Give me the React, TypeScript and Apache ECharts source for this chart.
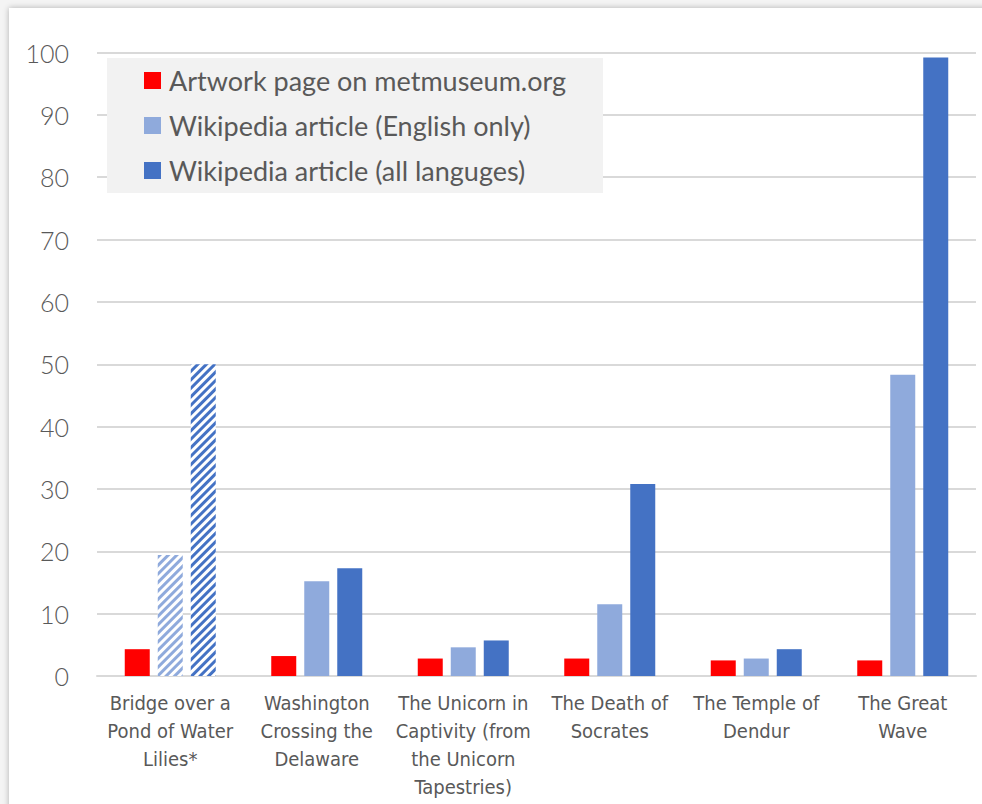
import React, { useEffect, useRef } from "react";
import * as echarts from "echarts";

const categories = [
  "Bridge over a\nPond of Water\nLilies*",
  "Washington\nCrossing the\nDelaware",
  "The Unicorn in\nCaptivity (from\nthe Unicorn\nTapestries)",
  "The Death of\nSocrates",
  "The Temple of\nDendur",
  "The Great\nWave",
];

const seriesNames = [
  "Artwork page on metmuseum.org",
  "Wikipedia article (English only)",
  "Wikipedia article (all languges)",
];

const metValues = [4.3, 3.2, 2.8, 2.8, 2.5, 2.5];
const wikiEnValues = [19.4, 15.2, 4.6, 11.5, 2.8, 48.3];
const wikiAllValues = [50, 17.3, 5.7, 30.8, 4.3, 99.2];

// categories whose Wikipedia bars are drawn hatched (estimates)
const hatchedIndex = [0];

const colors = ["#ff0000", "#8faadc", "#4472c4"];

export default function App() {
  const ref = useRef<HTMLDivElement>(null);

  useEffect(() => {
    document.body.style.margin = "0";
    if (!ref.current) return;
    const chart = echarts.init(ref.current, null, { renderer: "svg" });

    const hatch = (vals: number[], color: string) =>
      vals.map((v, i) =>
        hatchedIndex.includes(i)
          ? {
              value: v,
              itemStyle: {
                color: "#ffffff",
                decal: {
                  symbol: "rect",
                  color: color,
                  dashArrayX: [1, 0],
                  dashArrayY: [2.4, 2.2],
                  rotation: -Math.PI / 4,
                },
              },
            }
          : v
      );

    const font = "Lato, 'Open Sans', sans-serif";

    chart.setOption({
      animation: false,
      color: colors,
      grid: { left: 97, right: 6, top: 52.5, bottom: 128, containLabel: false },
      graphic: [
        {
          type: "rect",
          z: 1,
          shape: { x: 107, y: 58, width: 496, height: 135 },
          style: { fill: "#f2f2f2" },
        },
      ],
      legend: {
        z: 5,
        orient: "vertical",
        left: 144,
        top: 67,
        padding: 0,
        itemWidth: 17,
        itemHeight: 17,
        itemGap: 18,
        icon: "rect",
        textStyle: {
          fontFamily: font,
          fontSize: 27,
          color: "#595959",
          padding: [0, 0, 0, 3],
        },
        data: seriesNames,
      },
      xAxis: {
        type: "category",
        data: categories,
        axisTick: { show: false },
        axisLine: { lineStyle: { color: "#d9d9d9", width: 2 } },
        axisLabel: {
          interval: 0,
          fontFamily: "'Liberation Sans Narrow', 'DejaVu Sans Condensed', sans-serif",
          fontSize: 20,
          lineHeight: 28,
          margin: 13,
          color: "#595959",
        },
      },
      yAxis: {
        type: "value",
        min: 0,
        max: 100,
        interval: 10,
        axisLine: { show: false },
        axisTick: { show: false },
        splitLine: { lineStyle: { color: "#d9d9d9", width: 2 } },
        axisLabel: {
          fontFamily: font,
          fontWeight: 300,
          fontSize: 25,
          margin: 28,
          color: "#595959",
        },
      },
      series: [
        {
          name: seriesNames[0],
          type: "bar",
          barWidth: 25,
          barGap: "32%",
          data: metValues,
        },
        {
          name: seriesNames[1],
          type: "bar",
          barWidth: 25,
          barGap: "32%",
          data: hatch(wikiEnValues, colors[1]),
        },
        {
          name: seriesNames[2],
          type: "bar",
          barWidth: 25,
          barGap: "32%",
          data: hatch(wikiAllValues, colors[2]),
        },
      ],
    });

    return () => chart.dispose();
  }, []);

  return (
    <div style={{ position: "relative", width: 982, height: 804, overflow: "hidden", background: "#f4f4f4" }}>
      <div
        style={{
          position: "absolute",
          left: 9,
          top: 8,
          width: 1100,
          height: 1000,
          background: "#ffffff",
          boxShadow: "0 0 6px rgba(0,0,0,0.28)",
        }}
      />
      <div ref={ref} style={{ position: "absolute", left: 0, top: 0, width: 982, height: 804 }} />
    </div>
  );
}
